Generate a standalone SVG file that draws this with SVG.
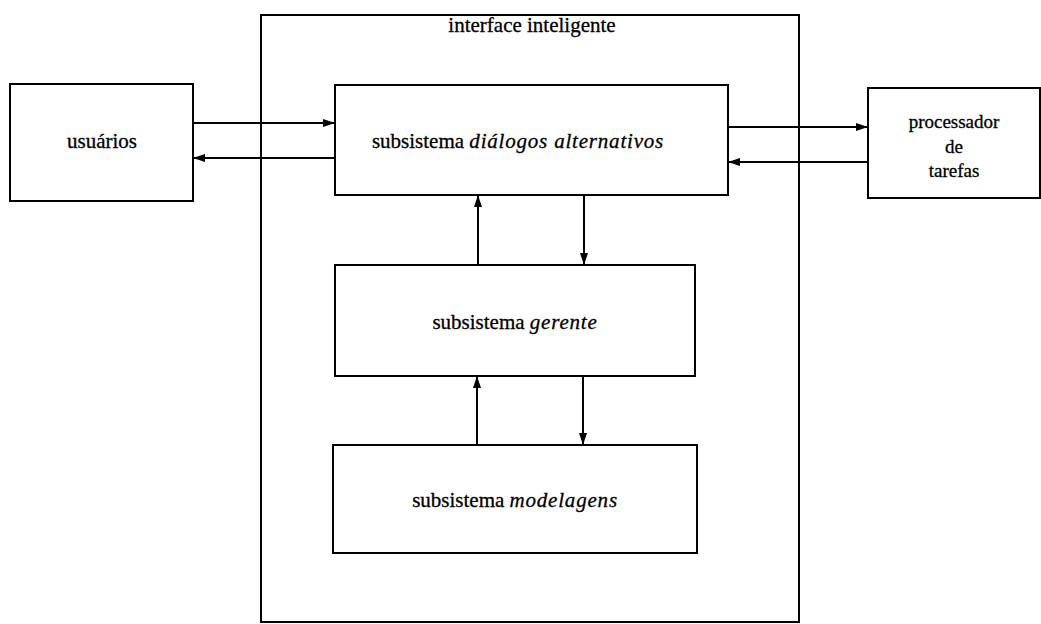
<svg xmlns="http://www.w3.org/2000/svg" width="1041" height="624" viewBox="0 0 1041 624">
<style>
.box{fill:none;stroke:#000;stroke-width:2}
.cn{stroke:#000;stroke-width:2;fill:none;marker-end:url(#ah)}
text{font-family:"Liberation Serif","DejaVu Serif",serif;font-size:21px;fill:#000;text-anchor:middle;stroke:#000;stroke-width:0.3}
.it{font-style:italic;letter-spacing:0.8px}
.sm{font-size:19px}
</style>
<defs>
<marker id="ah" viewBox="0 0 12 8" refX="12" refY="4" markerWidth="12" markerHeight="8" markerUnits="userSpaceOnUse" orient="auto">
<path d="M0,0 L12,4 L0,8 Z" fill="#000"/>
</marker>
</defs>
<rect width="1041" height="624" fill="#fff"/>
<g id="interface">
<rect class="box" x="261" y="15" width="538" height="607"/>
<text x="532" y="32">interface inteligente</text>
</g>
<g id="usuarios">
<rect class="box" x="10" y="84" width="183" height="117"/>
<text x="102" y="148">usuários</text>
</g>
<g id="dialogos">
<rect class="box" x="335" y="85" width="393" height="110"/>
<text x="518" y="148">subsistema <tspan class="it">diálogos alternativos</tspan></text>
</g>
<g id="processador">
<rect class="box" x="868" y="88" width="172" height="110"/>
<text class="sm" x="954" y="128">processador</text>
<text class="sm" x="954" y="153">de</text>
<text class="sm" x="954" y="177">tarefas</text>
</g>
<g id="gerente">
<rect class="box" x="335" y="265" width="360" height="111"/>
<text x="515" y="329">subsistema <tspan class="it">gerente</tspan></text>
</g>
<g id="modelagens">
<rect class="box" x="333" y="445" width="364" height="108"/>
<text x="515" y="507">subsistema <tspan class="it">modelagens</tspan></text>
</g>
<g id="connectors">
<line class="cn" x1="193" y1="123" x2="335" y2="123"/>
<line class="cn" x1="335" y1="158" x2="193" y2="158"/>
<line class="cn" x1="728" y1="127" x2="868" y2="127"/>
<line class="cn" x1="868" y1="162" x2="728" y2="162"/>
<line class="cn" x1="478" y1="265" x2="478" y2="195"/>
<line class="cn" x1="584" y1="195" x2="584" y2="265"/>
<line class="cn" x1="477" y1="445" x2="477" y2="376"/>
<line class="cn" x1="583" y1="376" x2="583" y2="445"/>
</g>
</svg>
